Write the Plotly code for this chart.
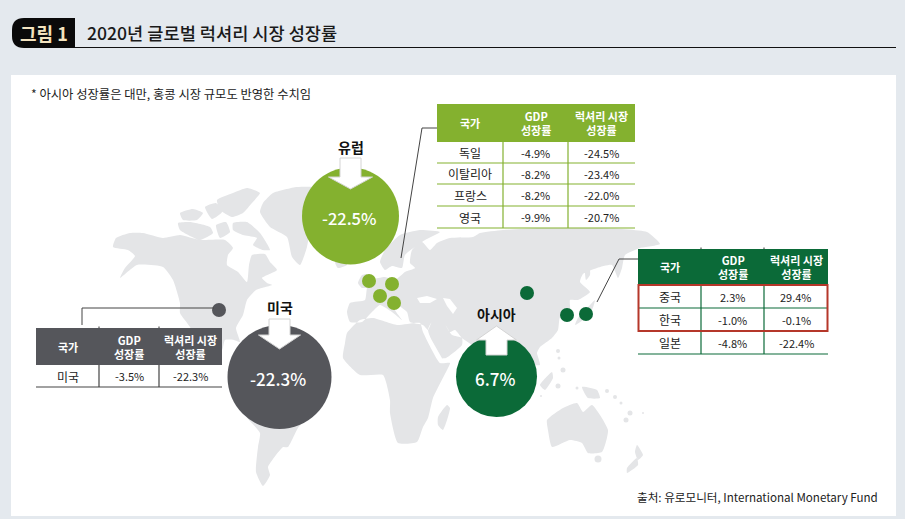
import plotly.graph_objects as go

FONT = "Noto Sans CJK KR"
BG = "#e4e9ee"
LAND = "#e4e5e7"
EU_GREEN = "#84b12f"
AS_GREEN = "#0b6a38"
US_GRAY = "#55565b"
RED = "#b5372a"

title_badge = "그림 1"
title_text = "2020년 글로벌 럭셔리 시장 성장률"
note_text = "* 아시아 성장률은 대만, 홍콩 시장 규모도 반영한 수치임"
source_text = "출처: 유로모니터, International Monetary Fund"

table_head = ["국가", "GDP<br>성장률", "럭셔리 시장<br>성장률"]

eu_countries = ["독일", "이탈리아", "프랑스", "영국"]
eu_gdp = ["-4.9%", "-8.2%", "-8.2%", "-9.9%"]
eu_lux = ["-24.5%", "-23.4%", "-22.0%", "-20.7%"]

as_countries = ["중국", "한국", "일본"]
as_gdp = ["2.3%", "-1.0%", "-4.8%"]
as_lux = ["29.4%", "-0.1%", "-22.4%"]

us_countries = ["미국"]
us_gdp = ["-3.5%"]
us_lux = ["-22.3%"]

region_names = ["유럽", "미국", "아시아"]
region_values = ["-22.5%", "-22.3%", "6.7%"]

# map outlines, plotly's geo base map needs the network
land_shapes = [
    # north america
    [(113,247),(116,238),(130,233),(143,233),(163,238),(180,235),(200,240),(225,240),(233,248),(228,255),
     (227,265),(238,272),(247,282),(249,265),(252,255),(265,254),(270,262),(277,270),(262,278),(267,283),
     (272,285),(256,290),(247,300),(243,315),(236,328),(240,342),(234,340),(225,340),(222,350),(205,360),
     (190,327),(180,313),(180,303),(173,280),(163,267),(137,265),(120,278),(125,268),(135,256),(128,250)],
    # arctic islands
    [(180,213),(193,209),(203,213),(197,220),(183,220)],
    [(178,223),(190,222),(210,227),(213,233),(200,240),(180,230)],
    [(217,200),(233,193),(247,188),(260,193),(252,203),(243,213),(232,217),(220,210)],
    [(233,223),(247,222),(260,233),(270,250),(263,250),(253,245),(257,238),(243,235),(233,230)],
    [(205,207),(216,203),(222,212),(212,219)],
    [(216,225),(226,222),(230,232),(220,238)],
    # greenland
    [(263,203),(273,193),(297,187),(320,188),(313,210),(307,247),(300,265),(292,257),(287,237),(270,227),(260,212)],
    # eurasia
    [(350,303),(365,300),(367,288),(372,280),(385,277),(395,280),(405,272),(415,268),(410,263),(412,250),
     (422,242),(430,250),(437,243),(450,238),(473,237),(480,233),(503,230),(540,228),(600,228),(647,232),
     (660,244),(640,248),(625,255),(622,268),(618,278),(612,265),(597,268),(583,274),(580,282),(590,292),
     (578,300),(570,300),(570,312),(560,317),(558,330),(552,338),(540,347),(537,353),(540,365),(530,365),
     (520,370),(497,390),(478,350),(462,338),(455,330),(450,332),(445,325),(432,322),(428,330),(423,325),
     (410,322),(407,312),(397,305),(395,310),(402,320),(392,312),(380,305),(372,312),(362,322),(350,322),(347,312)],
    # scandinavia
    [(380,262),(385,250),(400,235),(420,230),(440,232),(425,240),(405,255),(402,268),(392,266),(385,270)],
    # uk, iceland
    [(358,283),(362,275),(367,274),(369,287),(362,288)],
    [(335,262),(345,260),(347,265),(338,268)],
    # arabia
    [(428,330),(440,358),(446,358),(462,345),(462,338),(452,335),(445,325),(432,322)],
    # africa
    [(345,343),(343,358),(360,375),(383,375),(390,400),(390,413),(398,443),(417,442),(423,427),(428,418),
     (433,398),(447,370),(450,363),(440,363),(423,332),(420,323),(397,325),(373,318),(360,320),(347,333)],
    # madagascar
    [(447,405),(450,408),(443,430),(438,425),(438,417)],
    # south america
    [(240,395),(300,400),(312,412),(298,428),(288,447),(283,447),(273,459),(268,467),(270,475),(263,486),
     (256,472),(258,447),(260,433),(245,415)],
    # japan, sakhalin
    [(595,300),(592,310),(583,320),(575,325),(578,318),(590,305)],
    [(585,262),(589,262),(590,275),(586,280)],
    # borneo, new guinea
    [(540,385),(552,372),(553,378),(545,390)],
    [(582,387),(597,390),(600,398),(588,398)],
    # australia, new zealand
    [(547,420),(563,408),(577,403),(583,412),(592,405),(608,430),(602,452),(588,453),(582,443),(570,440),(552,447),(548,430)],
    [(637,445),(643,455),(638,460),(635,452)],
    [(637,458),(627,468),(627,473),(638,465)],
]
water_shapes = [
    [(417,298),(427,296),(437,299),(430,303),(420,303)],  # black sea
    [(443,298),(450,299),(457,308),(453,314),(447,306)],  # caspian
    [(423,330),(426,330),(443,360),(440,362)],  # red sea
]
islets_x = [558, 559, 563, 558, 541, 577, 607, 615, 621, 630, 626, 643, 598, 604]
islets_y = [351, 358, 370, 386, 396, 388, 391, 397, 403, 413, 420, 413, 459, 430]
islets_size = [4, 3, 5, 5, 2, 3, 4, 4, 3, 5, 5, 2, 7, 2]


def polygon_xy(polygons):
    xs, ys = [], []
    for poly in polygons:
        for px, py in poly:
            xs.append(px)
            ys.append(py)
        xs.append(poly[0][0])
        ys.append(poly[0][1])
        xs.append(None)
        ys.append(None)
    return xs, ys


fig = go.Figure()

lx, ly = polygon_xy(land_shapes)
fig.add_trace(go.Scatter(x=lx, y=ly, mode="lines", fill="toself", fillcolor=LAND,
                         line=dict(width=0, color=LAND, shape="spline", smoothing=0.5)))
wx, wy = polygon_xy(water_shapes)
fig.add_trace(go.Scatter(x=wx, y=wy, mode="lines", fill="toself", fillcolor="white", line=dict(width=0, color="white")))
fig.add_trace(go.Scatter(x=islets_x, y=islets_y, mode="markers",
                         marker=dict(size=islets_size, color=LAND, opacity=1, line_width=0)))


def text(x, y, s, size=11, color="#222222", bold=False, anchor="center", weight=None):
    if bold:
        s = "<b>" + s.replace("<br>", "</b><br><b>") + "</b>"
    font = dict(family=FONT, size=size, color=color)
    if weight:
        font["weight"] = weight
    fig.add_annotation(x=x, y=y, text=s, showarrow=False, xanchor=anchor, yanchor="middle", font=font, align="center")


def line(x0, y0, x1, y1, color, width=1):
    fig.add_shape(type="line", x0=x0, y0=y0, x1=x1, y1=y1, line=dict(color=color, width=width), layer="above")


def draw_table(cols, rows_y, color, countries, gdp, lux, line_color=None, ticks=False):
    line_color = line_color or color
    fig.add_shape(type="rect", x0=cols[0], x1=cols[3], y0=rows_y[0], y1=rows_y[-1], fillcolor="white",
                  line_width=0, layer="above")
    fig.add_shape(type="rect", x0=cols[0], x1=cols[3], y0=rows_y[0], y1=rows_y[1], fillcolor=color,
                  line_width=0, layer="above")
    for i, head in enumerate(table_head):
        text((cols[i] + cols[i + 1]) / 2, (rows_y[0] + rows_y[1]) / 2, head, size=11, color="white", bold=True)
    for y in rows_y[2:]:
        line(cols[0], y, cols[3], y, line_color, 1.2)
    for x in cols[1:3]:
        line(x, rows_y[1], x, rows_y[-1], line_color, 1.2)
        if ticks:
            line(x, rows_y[0] - 1.5, x, rows_y[0], "#333333", 1)
    for r in range(len(countries)):
        ym = (rows_y[r + 1] + rows_y[r + 2]) / 2
        text((cols[0] + cols[1]) / 2, ym, countries[r], size=12)
        text((cols[1] + cols[2]) / 2, ym, gdp[r], size=11)
        text((cols[2] + cols[3]) / 2, ym, lux[r], size=11)


# connectors
line(437, 128, 422, 128, "#444444")
line(422, 128, 401, 258, "#444444")
line(638, 259, 619, 259, "#444444")
line(619, 259, 597, 302, "#444444")
line(82, 325, 82, 308, "#444444")
line(82, 308, 214, 308, "#444444")

# bubbles and the small country dots
fig.add_trace(go.Scatter(x=[350.5, 279.5, 496.5], y=[216, 377, 376.5], mode="markers",
                         marker=dict(size=[97, 104, 81], color=[EU_GREEN, US_GRAY, AS_GREEN], line_width=0, opacity=1)))
fig.add_trace(go.Scatter(x=[369, 392, 380, 394], y=[281, 284, 296, 303], mode="markers",
                         marker=dict(size=14, color=EU_GREEN, opacity=1)))
fig.add_trace(go.Scatter(x=[527, 567, 586], y=[293, 315, 314], mode="markers",
                         marker=dict(size=14, color=AS_GREEN, opacity=1)))
fig.add_trace(go.Scatter(x=[219], y=[310], mode="markers", marker=dict(size=14, color=US_GRAY, opacity=1)))


def arrow_path(cx, shaft_half, head_half, y_back, y_neck, y_tip):
    return (f"M {cx-shaft_half} {y_back} L {cx+shaft_half} {y_back} L {cx+shaft_half} {y_neck} "
            f"L {cx+head_half} {y_neck} L {cx} {y_tip} L {cx-head_half} {y_neck} L {cx-shaft_half} {y_neck} Z")


for path in [arrow_path(350.5, 10.5, 22, 158, 177, 189),
             arrow_path(279.5, 10.5, 21, 319, 335, 349),
             arrow_path(496.5, 10.5, 20, 355, 340, 326)]:
    fig.add_shape(type="path", path=path, fillcolor="white", line=dict(color="#d4d4d4", width=1), layer="above")

draw_table([437, 503, 568, 635], [104, 142, 163, 184, 206, 228], EU_GREEN, eu_countries, eu_gdp, eu_lux)
draw_table([638, 701, 764, 828], [249, 285, 308, 331, 354], AS_GREEN, as_countries, as_gdp, as_lux, ticks=True)
draw_table([36, 99, 159, 222], [328, 365, 387], US_GRAY, us_countries, us_gdp, us_lux, line_color="#444444", ticks=True)
fig.add_shape(type="rect", x0=638.5, x1=827.5, y0=285, y1=331, line=dict(color=RED, width=2), layer="above")

text(350.5, 147, region_names[0], size=14, color="#111111", bold=True)
text(279.5, 307, region_names[1], size=14, color="#111111", bold=True)
text(496.5, 314, region_names[2], size=14, color="#111111", bold=True)
text(349, 218, region_values[0], size=16.5, color="white", weight=500)
text(278, 378, region_values[1], size=17, color="white", weight=500)
text(495, 378, region_values[2], size=17, color="white", weight=500)

# header strip
fig.add_shape(type="path", path="M 75 18 L 24 18 Q 12 18 12 30 L 12 36 Q 12 48 24 48 L 75 48 Z",
              fillcolor="#0a0a0a", line_width=0, layer="above")
line(75, 47.5, 896, 47.5, "#111111", 1)
text(43.5, 33, title_badge, size=18, color="#f3e3bf", bold=True)
text(85, 32, title_text, size=17.6, color="#1a1a1a", anchor="left", weight=500)
text(29, 94, note_text, size=12.3, color="#222222", anchor="left")
text(880, 497, source_text, size=11.6, color="#222222", anchor="right")

fig.add_shape(type="rect", x0=11, x1=896, y0=75, y1=516, fillcolor="white", line_width=0, layer="below")

fig.update_layout(width=905, height=519, autosize=False, margin=dict(l=0, r=0, t=0, b=0), showlegend=False,
                  paper_bgcolor=BG, plot_bgcolor="rgba(0,0,0,0)",
                  xaxis=dict(range=[0, 905], visible=False, fixedrange=True),
                  yaxis=dict(range=[519, 0], visible=False, fixedrange=True))
# the page's default body margin would push the figure 8px off
fig.write_html("out.html", post_script="document.body.style.margin='0';", config=dict(displayModeBar=False))
